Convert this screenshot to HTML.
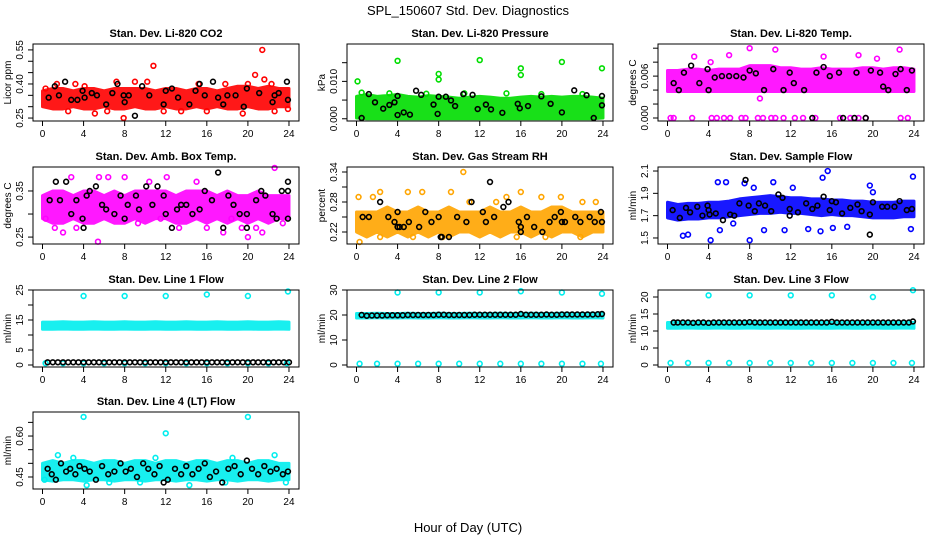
<!DOCTYPE html>
<html><head><meta charset="utf-8"><style>
html,body{margin:0;padding:0;background:#fff}
svg text{font-family:"Liberation Sans",sans-serif}
</style></head><body>
<svg id="chart" width="936" height="540" viewBox="0 0 936 540" xmlns="http://www.w3.org/2000/svg">
<rect width="936" height="540" fill="#fff"/>
<text x="468" y="15" text-anchor="middle" font-size="13">SPL_150607  Std. Dev. Diagnostics</text>
<text x="468" y="532" text-anchor="middle" font-size="13">Hour of Day (UTC)</text>
</svg>
<script>
// ---- data ----
const xTicks = [0,4,8,12,16,20,24];
const titles = ["Stan. Dev. Li-820 CO2","Stan. Dev. Li-820 Pressure","Stan. Dev. Li-820 Temp.","Stan. Dev. Amb. Box Temp.","Stan. Dev. Gas Stream RH","Stan. Dev. Sample Flow","Stan. Dev. Line 1 Flow","Stan. Dev. Line 2 Flow","Stan. Dev. Line 3 Flow","Stan. Dev. Line 4 (LT) Flow"];
const yLabels = ["Licor ppm","kPa","degrees C","degrees C","percent","ml/min","ml/min","ml/min","ml/min","ml/min"];
const colors = ["#ff0000","#00dd00","#ff00ff","#ff00ff","#ffa500","#0000ff","#00eeee","#00eeee","#00eeee","#00eeee"];
const yDomains = [[0.237,0.576],[-0.0006,0.0200],[-0.00043,0.0106],[0.235,0.402],[0.196,0.350],[1.446,2.136],[-0.67,25.0],[-0.8,30.0],[-0.59,22.06],[0.406,0.688]];
const yTicks = [[0.25,0.30,0.35,0.40,0.45,0.50,0.55],[0,0.005,0.010,0.015],[0,0.002,0.004,0.006,0.008,0.010],[0.25,0.30,0.35],[0.22,0.25,0.28,0.31,0.34],[1.5,1.7,1.9,2.1],[0,5,10,15,20,25],[0,10,20,30],[0,5,10,15,20],[0.45,0.50,0.55,0.60,0.65]];
const yTickLabels = [["0.25","","","0.40","","","0.55"],["0.000","","0.010",""],["0.000","","","0.006","",""],["0.25","","0.35"],["0.22","","0.28","","0.34"],["1.5","1.7","1.9","2.1"],["0","5","","15","","25"],["0","10","20","30"],["0","5","10","15","20"],["0.45","","","0.60",""]];
// band low/high at hours 0..24
const bandLo = [
 [0.30,0.29,0.29,0.30,0.29,0.29,0.30,0.29,0.29,0.30,0.29,0.29,0.30,0.29,0.29,0.30,0.29,0.30,0.29,0.29,0.30,0.29,0.29,0.30,0.30],
 [0.0002,0,0,0,0,0,0,0,0,0,0,0,0,0,0,0,0,0,0,0,0,0,0,0,0.0002],
 [0.0038,0.0038,0.0038,0.0038,0.0038,0.0038,0.0038,0.0038,0.0038,0.0038,0.0038,0.0038,0.0038,0.0038,0.0038,0.0038,0.0038,0.0038,0.0038,0.0038,0.0038,0.0038,0.0038,0.0038,0.0038],
 [0.29,0.28,0.28,0.29,0.28,0.28,0.29,0.28,0.28,0.29,0.28,0.29,0.29,0.28,0.28,0.29,0.28,0.29,0.28,0.29,0.28,0.29,0.28,0.29,0.29],
 [0.22,0.21,0.22,0.21,0.22,0.21,0.22,0.21,0.22,0.21,0.22,0.22,0.21,0.22,0.21,0.22,0.22,0.21,0.22,0.21,0.22,0.22,0.21,0.22,0.22],
 [1.68,1.66,1.67,1.67,1.68,1.68,1.69,1.70,1.71,1.72,1.72,1.73,1.72,1.72,1.71,1.70,1.71,1.70,1.70,1.69,1.68,1.68,1.68,1.69,1.69],
 [11.9,11.9,12.0,11.9,11.9,12.0,11.9,11.9,12.0,11.9,11.9,12.0,11.9,11.9,12.0,11.9,11.9,12.0,11.9,11.9,12.0,11.9,11.9,12.0,11.9],
 [18.8,18.8,18.9,18.8,18.8,18.9,18.8,18.8,18.9,18.8,18.8,18.9,18.8,18.8,18.9,18.8,18.8,18.9,18.8,18.8,18.9,18.8,18.8,18.9,18.8],
 [10.8,10.8,10.9,10.8,10.8,10.9,10.8,10.8,10.9,10.8,10.8,10.9,10.8,10.8,10.9,10.8,10.8,10.9,10.8,10.8,10.9,10.8,10.8,10.9,10.8],
 [0.44,0.435,0.44,0.44,0.435,0.44,0.44,0.435,0.44,0.44,0.435,0.44,0.44,0.435,0.44,0.44,0.435,0.44,0.44,0.435,0.44,0.44,0.435,0.44,0.44]];
const bandHi = [
 [0.37,0.38,0.38,0.37,0.38,0.38,0.37,0.38,0.38,0.38,0.38,0.37,0.38,0.38,0.37,0.38,0.38,0.37,0.38,0.39,0.39,0.38,0.39,0.38,0.38],
 [0.0060,0.0065,0.0060,0.0062,0.0065,0.0060,0.0058,0.0062,0.0060,0.0058,0.0055,0.0058,0.0060,0.0058,0.0055,0.0055,0.0058,0.0060,0.0058,0.0060,0.0058,0.0060,0.0060,0.0058,0.0055],
 [0.0068,0.0068,0.0070,0.0070,0.0068,0.0070,0.0070,0.0070,0.0075,0.0075,0.0075,0.0072,0.0072,0.0070,0.0070,0.0072,0.0070,0.0070,0.0070,0.0072,0.0072,0.0070,0.0072,0.0072,0.0070],
 [0.34,0.35,0.35,0.34,0.35,0.35,0.34,0.35,0.34,0.35,0.35,0.35,0.35,0.34,0.35,0.35,0.35,0.34,0.35,0.34,0.34,0.35,0.34,0.34,0.34],
 [0.26,0.26,0.26,0.27,0.26,0.26,0.27,0.26,0.26,0.27,0.26,0.26,0.26,0.27,0.26,0.26,0.27,0.26,0.26,0.27,0.27,0.26,0.26,0.26,0.26],
 [1.82,1.80,1.81,1.81,1.82,1.82,1.83,1.85,1.86,1.87,1.88,1.87,1.86,1.86,1.85,1.85,1.84,1.84,1.83,1.83,1.82,1.82,1.82,1.83,1.83],
 [14.3,14.3,14.4,14.3,14.3,14.4,14.3,14.3,14.4,14.3,14.3,14.4,14.3,14.3,14.4,14.3,14.3,14.4,14.3,14.3,14.4,14.3,14.3,14.4,14.3],
 [20.6,20.6,20.7,20.6,20.6,20.7,20.6,20.6,20.7,20.6,20.6,20.7,20.6,20.6,20.7,20.6,20.6,20.7,20.6,20.6,20.7,20.6,20.6,20.7,20.6],
 [12.5,12.5,12.6,12.5,12.5,12.6,12.5,12.5,12.6,12.5,12.5,12.6,12.5,12.5,12.6,12.5,12.5,12.6,12.5,12.5,12.6,12.5,12.5,12.6,12.5],
 [0.50,0.51,0.50,0.51,0.51,0.50,0.51,0.51,0.50,0.51,0.51,0.50,0.51,0.51,0.50,0.51,0.51,0.50,0.51,0.51,0.50,0.51,0.51,0.50,0.50]];
// coloured scatter points [hour, value]
const colorPts = [
 [[0.3,0.38],[1.4,0.40],[3.2,0.40],[4.1,0.39],[5.1,0.27],[6.3,0.28],[7.2,0.41],[7.9,0.25],[9.0,0.41],[10.2,0.41],[10.8,0.48],[13.5,0.28],[15.2,0.40],[17.8,0.40],[19.5,0.27],[20.0,0.40],[20.7,0.44],[21.4,0.55],[21.6,0.42],[22.3,0.40],[22.6,0.28],[23.9,0.29],[2.5,0.28],[11.8,0.28],[16.0,0.28]],
 [[0.1,0.0100],[4.0,0.0155],[8.0,0.0120],[8.0,0.0105],[12.0,0.0157],[16.0,0.0135],[16.0,0.0117],[20.0,0.0152],[23.9,0.0135],[0.5,0.0070],[3.2,0.0068],[6.8,0.0067],[10.5,0.0068],[14.6,0.0068],[18.0,0.0066],[22.0,0.0066]],
 [[0.3,0],[0.6,0],[2.4,0],[4.3,0],[4.8,0],[5.5,0],[6.1,0],[7.2,0],[7.6,0],[8.8,0],[9.3,0],[10.1,0],[10.5,0],[11.3,0],[12.4,0],[13.2,0],[14.4,0],[16.8,0],[17.8,0],[18.6,0],[19.3,0],[22.7,0],[23.4,0],[8.0,0.0100],[10.5,0.0098],[22.6,0.0098],[2.6,0.0088],[6.0,0.0090],[18.6,0.0090],[9.0,0.0028],[15.2,0.0088],[4.2,0.0080],[20.4,0.0085]],
 [[0.3,0.29],[1.2,0.27],[2.0,0.26],[2.8,0.38],[5.5,0.38],[6.4,0.38],[8.0,0.38],[9.3,0.28],[10.4,0.37],[12.1,0.38],[13.3,0.27],[15.0,0.37],[16.0,0.27],[17.6,0.26],[18.4,0.29],[19.4,0.27],[20.0,0.25],[20.8,0.27],[21.4,0.26],[22.6,0.40],[23.4,0.28],[5.4,0.24],[3.3,0.27],[11.5,0.29]],
 [[0.2,0.29],[1.6,0.29],[2.3,0.30],[5.0,0.30],[6.4,0.30],[9.2,0.30],[10.4,0.34],[11.0,0.28],[13.6,0.28],[14.6,0.29],[16.0,0.30],[18.0,0.29],[19.9,0.29],[22.0,0.28],[23.3,0.28],[0.3,0.20],[2.3,0.21],[8.4,0.21],[15.6,0.21],[18.4,0.21],[21.8,0.21],[5.5,0.21]],
 [[1.5,1.52],[2.0,1.53],[4.2,1.48],[5.1,1.57],[6.4,1.63],[7.5,1.99],[8.0,1.48],[9.4,1.57],[11.4,1.57],[13.7,1.58],[14.9,1.56],[16.1,1.59],[17.5,1.60],[15.1,2.04],[15.6,2.10],[20.0,1.91],[23.7,1.58],[23.9,2.05],[4.9,2.00],[5.7,2.00],[10.3,2.00],[19.7,1.97],[8.4,1.95],[12.2,1.95]],
 [[4.0,23],[8.0,23],[12.0,23],[16.0,23.5],[20.0,23],[23.9,24.5],[0.3,0.6],[2.0,0.6],[4.0,0.6],[6.0,0.6],[8.0,0.6],[10.0,0.6],[12.0,0.6],[14.0,0.6],[16.0,0.6],[18.0,0.6],[20.0,0.6],[22.0,0.6],[23.8,0.6]],
 [[4.0,29],[8.0,29],[12.0,29],[16.0,29.5],[20.0,29],[23.9,28.5],[0.3,0.5],[2.0,0.5],[4.0,0.5],[6.0,0.5],[8.0,0.5],[10.0,0.5],[12.0,0.5],[14.0,0.5],[16.0,0.5],[18.0,0.5],[20.0,0.5],[22.0,0.5],[23.8,0.5]],
 [[4.0,20.5],[8.0,20.5],[12.0,20.5],[16.0,20.5],[20.0,20.0],[23.9,22],[0.3,0.6],[2.0,0.6],[4.0,0.6],[6.0,0.6],[8.0,0.6],[10.0,0.6],[12.0,0.6],[14.0,0.6],[16.0,0.6],[18.0,0.6],[20.0,0.6],[22.0,0.6],[23.8,0.6]],
 [[4.0,0.67],[20.0,0.67],[12.0,0.61],[1.5,0.53],[0.2,0.44],[6.5,0.43],[9.5,0.43],[14.3,0.42],[17.8,0.43],[22.6,0.53],[23.7,0.43],[3.0,0.52],[11.0,0.52],[18.5,0.52],[4.3,0.42]]];
// black scatter points [hour, value]
const blackPts = [
 [[0.6,0.34],[1.2,0.39],[1.6,0.35],[2.2,0.41],[2.8,0.33],[3.4,0.33],[3.9,0.37],[4.1,0.34],[4.8,0.36],[5.3,0.35],[6.2,0.31],[6.8,0.36],[7.3,0.40],[7.9,0.35],[8.0,0.32],[8.4,0.35],[9.0,0.26],[9.7,0.39],[10.4,0.35],[11.8,0.31],[12.0,0.37],[12.6,0.38],[13.2,0.34],[14.3,0.31],[14.9,0.37],[15.3,0.40],[15.8,0.35],[16.6,0.41],[17.1,0.34],[17.6,0.31],[18.0,0.35],[18.8,0.35],[19.6,0.30],[19.9,0.38],[21.1,0.36],[22.4,0.32],[22.6,0.35],[23.0,0.36],[23.8,0.41],[23.9,0.33]],
 [[0.5,0.0002],[1.2,0.0066],[1.8,0.0044],[2.6,0.0027],[3.2,0.0037],[3.7,0.0044],[4.0,0.0061],[4.0,0.0010],[4.6,0.0017],[5.2,0.0011],[5.8,0.0075],[6.3,0.0064],[7.5,0.0038],[7.9,0.0013],[8.0,0.0059],[8.7,0.0059],[9.2,0.0049],[9.6,0.0034],[10.4,0.0066],[11.3,0.0064],[11.8,0.0026],[12.6,0.0038],[13.1,0.0025],[14.2,0.0016],[15.7,0.0040],[15.9,0.0028],[16.7,0.0034],[18.0,0.0060],[18.9,0.0040],[20.0,0.0017],[21.2,0.0076],[22.4,0.0063],[23.1,0.0002],[23.9,0.0061],[23.9,0.0036]],
 [[0.6,0.005],[1.1,0.004],[1.6,0.0065],[2.3,0.0075],[3.1,0.005],[3.9,0.007],[4.0,0.004],[4.6,0.0058],[5.3,0.006],[6.0,0.006],[6.7,0.006],[7.4,0.0058],[8.0,0.0068],[8.6,0.0064],[9.4,0.004],[10.3,0.007],[11.3,0.004],[11.9,0.0065],[12.3,0.005],[13.3,0.004],[14.1,0],[14.5,0.0065],[15.2,0.0073],[15.8,0.006],[16.7,0.0065],[17.1,0],[18.2,0],[18.4,0.0065],[19.3,0],[19.8,0.0068],[20.7,0.0065],[21.0,0.0045],[21.5,0.004],[22.2,0.0063],[22.7,0.007],[23.3,0.004],[23.8,0.0068]],
 [[0.7,0.33],[1.3,0.37],[1.7,0.33],[2.3,0.37],[2.8,0.30],[3.3,0.33],[3.9,0.29],[4.0,0.27],[4.3,0.34],[4.6,0.35],[5.2,0.36],[5.8,0.32],[6.2,0.31],[7.0,0.30],[7.6,0.34],[8.0,0.29],[8.3,0.32],[9.1,0.34],[9.4,0.31],[10.1,0.36],[10.7,0.32],[11.2,0.36],[11.8,0.34],[12.0,0.30],[12.6,0.27],[13.1,0.31],[13.5,0.32],[14.0,0.32],[14.6,0.30],[15.3,0.31],[15.8,0.35],[16.5,0.33],[17.1,0.39],[17.6,0.27],[18.1,0.34],[18.6,0.32],[19.2,0.30],[19.9,0.30],[19.9,0.27],[20.8,0.33],[21.3,0.35],[21.7,0.34],[22.4,0.30],[22.8,0.29],[23.3,0.35],[23.9,0.35],[23.9,0.37],[23.9,0.29]],
 [[0.6,0.25],[1.2,0.25],[2.3,0.28],[3.1,0.25],[3.7,0.24],[4.0,0.26],[4.0,0.23],[4.2,0.23],[4.6,0.23],[5.1,0.24],[6.1,0.23],[6.7,0.26],[7.3,0.24],[8.0,0.25],[8.2,0.21],[8.3,0.21],[9.0,0.21],[9.8,0.25],[10.7,0.24],[11.2,0.28],[12.3,0.26],[12.6,0.24],[13.0,0.32],[13.4,0.25],[14.3,0.27],[14.8,0.28],[15.8,0.24],[16.0,0.23],[16.0,0.22],[16.6,0.25],[17.3,0.23],[18.1,0.22],[18.8,0.24],[19.3,0.25],[19.9,0.26],[20.0,0.24],[20.3,0.24],[21.3,0.25],[21.8,0.24],[22.7,0.25],[23.2,0.24],[23.8,0.26],[23.9,0.24]],
 [[0.5,1.75],[1.2,1.68],[1.8,1.77],[2.2,1.73],[2.9,1.78],[3.4,1.70],[3.9,1.79],[4.0,1.75],[4.1,1.71],[4.7,1.72],[5.4,1.66],[6.1,1.71],[6.5,1.70],[7.0,1.81],[7.6,2.02],[7.9,1.79],[8.5,1.74],[8.9,1.81],[9.5,1.79],[10.1,1.74],[10.8,1.89],[11.2,1.86],[11.9,1.76],[11.9,1.70],[12.7,1.73],[13.5,1.81],[14.1,1.76],[14.6,1.79],[15.2,1.87],[15.8,1.75],[16.0,1.83],[16.4,1.82],[17.0,1.72],[17.8,1.77],[18.5,1.80],[18.9,1.74],[19.7,1.71],[19.7,1.53],[20.0,1.82],[20.9,1.78],[21.4,1.78],[22.1,1.78],[22.6,1.83],[23.3,1.75],[23.8,1.76]],
 [[0.5,0.9],[1.5,0.9],[2.5,0.9],[3.5,0.9],[4.5,0.9],[5.5,0.9],[6.5,0.9],[7.5,0.9],[8.5,0.9],[9.5,0.9],[10.5,0.9],[11.5,0.9],[12.5,0.9],[13.5,0.9],[14.5,0.9],[15.5,0.9],[16.5,0.9],[17.5,0.9],[18.5,0.9],[19.5,0.9],[20.5,0.9],[21.5,0.9],[22.5,0.9],[23.5,0.9],[1.0,0.9],[2.0,0.9],[3.0,0.9],[4.0,0.9],[5.0,0.9],[6.0,0.9],[7.0,0.9],[8.0,0.9],[9.0,0.9],[10.0,0.9],[11.0,0.9],[12.0,0.9],[13.0,0.9],[14.0,0.9],[15.0,0.9],[16.0,0.9],[17.0,0.9],[18.0,0.9],[19.0,0.9],[20.0,0.9],[21.0,0.9],[22.0,0.9],[23.0,0.9],[24.0,0.9]],
 [[0.5,20.0],[1.0,19.7],[1.5,19.8],[2.0,19.8],[2.5,19.8],[3.0,19.9],[3.5,19.9],[4.0,19.9],[4.5,19.9],[5.0,20.0],[5.5,20.0],[6.0,20.0],[6.5,20.0],[7.0,20.0],[7.5,20.0],[8.0,20.1],[8.5,20.1],[9.0,20.0],[9.5,20.0],[10.0,20.0],[10.5,20.0],[11.0,20.0],[11.5,20.1],[12.0,20.1],[12.5,20.1],[13.0,20.1],[13.5,20.1],[14.0,20.1],[14.5,20.1],[15.0,20.1],[15.5,20.1],[16.0,20.4],[16.5,20.1],[17.0,20.1],[17.5,20.1],[18.0,20.1],[18.5,20.2],[19.0,20.1],[19.5,20.1],[20.0,20.2],[20.5,20.2],[21.0,20.2],[21.5,20.2],[22.0,20.2],[22.5,20.2],[23.0,20.2],[23.5,20.3],[23.9,20.4]],
 [[0.6,12.5],[1.0,12.5],[1.5,12.5],[2.0,12.5],[2.5,12.4],[3.0,12.5],[3.5,12.5],[4.0,12.4],[4.5,12.5],[5.0,12.5],[5.5,12.5],[6.0,12.5],[6.5,12.5],[7.0,12.5],[7.5,12.5],[8.0,12.6],[8.5,12.5],[9.0,12.5],[9.5,12.5],[10.0,12.5],[10.5,12.5],[11.0,12.5],[11.5,12.5],[12.0,12.5],[12.5,12.5],[13.0,12.5],[13.5,12.5],[14.0,12.5],[14.5,12.5],[15.0,12.5],[15.5,12.5],[16.0,12.7],[16.5,12.5],[17.0,12.5],[17.5,12.5],[18.0,12.5],[18.5,12.5],[19.0,12.5],[19.5,12.5],[20.0,12.5],[20.5,12.5],[21.0,12.5],[21.5,12.5],[22.0,12.5],[22.5,12.5],[23.0,12.5],[23.5,12.5],[23.9,12.8]],
 [[0.5,0.48],[0.9,0.46],[1.3,0.44],[1.8,0.50],[2.3,0.47],[2.7,0.48],[3.2,0.46],[3.6,0.49],[4.1,0.48],[4.6,0.47],[5.2,0.44],[5.8,0.49],[6.4,0.46],[7.0,0.47],[7.6,0.50],[8.1,0.47],[8.6,0.48],[9.2,0.45],[9.8,0.50],[10.3,0.48],[10.9,0.46],[11.4,0.49],[11.8,0.43],[12.2,0.44],[12.9,0.48],[13.5,0.46],[14.0,0.49],[14.6,0.46],[15.2,0.48],[15.8,0.50],[16.3,0.45],[16.9,0.47],[17.5,0.43],[18.1,0.48],[18.7,0.49],[19.3,0.46],[19.9,0.51],[20.4,0.48],[21.0,0.46],[21.6,0.49],[22.2,0.47],[22.8,0.48],[23.4,0.46],[23.9,0.47]]];

// ---- layout ----
const colX = [33,347,658], rowY = [44,167,290,412], BW = 266, BH = 77;
const NS = "http://www.w3.org/2000/svg";
const svg = document.getElementById('chart');
function mk(tag, attrs, parent){const e=document.createElementNS(NS,tag);for(const k in attrs)e.setAttribute(k,attrs[k]);(parent||svg).appendChild(e);return e;}

titles.forEach((t,p)=>{
  const x0 = colX[p%3], y0 = rowY[Math.floor(p/3)];
  const xs = h => x0 + 9.5 + h*10.27;
  const [d0,d1] = yDomains[p];
  const ys = v => y0 + BH - (v-d0)/(d1-d0)*BH;
  const g = mk('g',{});
  
  
  const tt = mk('text',{x:x0+BW/2,y:y0-7,'text-anchor':'middle','font-size':'11','font-weight':'bold'},g);
  tt.textContent = t;
  
  
  let pts = bandLo[p].map((v,i)=>xs(i)+','+ys(v));
  pts = pts.concat(bandHi[p].map((v,i)=>xs(i)+','+ys(v)).reverse());
  const band = mk('polygon',{points:pts.join(' '),fill:colors[p],stroke:colors[p],'stroke-width':'3','stroke-linejoin':'round',opacity:'0.9'},g);
  
  
  colorPts[p].forEach(([h,v])=>{
    const c = mk('circle',{cx:xs(h),cy:ys(v),r:2.4,fill:'none',stroke:colors[p],'stroke-width':1.6},g);
    
    
  });
  blackPts[p].forEach(([h,v])=>{
    const c = mk('circle',{cx:xs(h),cy:ys(v),r:2.4,fill:'none',stroke:'#000','stroke-width':1.6},g);
    
    
  });
  const box = mk('rect',{x:x0,y:y0,width:BW,height:BH,fill:'none',stroke:'#000','stroke-width':1},g);
  
  
  xTicks.forEach(h=>{
    mk('line',{x1:xs(h),x2:xs(h),y1:y0+BH,y2:y0+BH+5,stroke:'#000'},g);
    const tl = mk('text',{x:xs(h),y:y0+BH+16,'text-anchor':'middle','font-size':'10'},g);
    tl.textContent = h;
    
    
  });
  yTicks[p].forEach((v,i)=>{
    if (ys(v) < y0-1 || ys(v) > y0+BH+1) return;
    mk('line',{x1:x0-5,x2:x0,y1:ys(v),y2:ys(v),stroke:'#000'},g);
    const lab = yTickLabels[p][i];
    if (lab) {
      const tl = mk('text',{x:x0-10,y:ys(v),'text-anchor':'middle','font-size':'10',transform:'rotate(-90 '+(x0-10)+' '+ys(v)+')'},g);
      tl.textContent = lab;
      
      
    }
  });
  const yl = mk('text',{x:x0-22,y:y0+BH/2,'text-anchor':'middle','font-size':'10',transform:'rotate(-90 '+(x0-22)+' '+(y0+BH/2)+')'},g);
  yl.textContent = yLabels[p];
  
  
});
</script>
</body></html>
